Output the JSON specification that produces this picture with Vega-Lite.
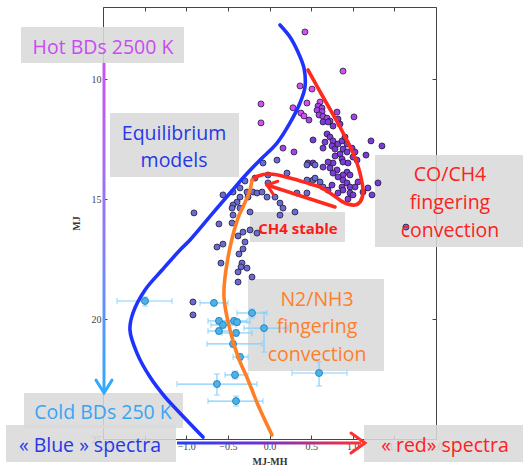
{
"$schema": "https://vega.github.io/schema/vega-lite/v6.json",
"width": 333, "height": 432,
"autosize": {"type": "none"},
"padding": {"left": 103, "top": 7, "right": 92, "bottom": 28},
"background": "white",
"config": {
 "view": {"stroke": "#444", "strokeWidth": 1},
 "axis": {"labelFont": "Liberation Serif", "labelFontSize": 10, "labelColor": "#444", "titleFont": "Liberation Serif", "titleFontSize": 10, "titleFontWeight": "bold", "titleColor": "#333", "tickColor": "#444", "domain": false, "grid": false, "tickSize": -4}
},
"datasets": {
 "boxes": [
  {"x1": -2.985, "x2": -1.027, "y1": 7.83, "y2": 9.33},
  {"x1": -1.916, "x2": -0.366, "y1": 11.42, "y2": 14.08},
  {"x1": 1.267, "x2": 3.045, "y1": 13.17, "y2": 17.0},
  {"x1": -0.234, "x2": 0.907, "y1": 15.54, "y2": 16.79},
  {"x1": -0.258, "x2": 1.375, "y1": 18.33, "y2": 22.17},
  {"x1": -2.949, "x2": -1.039, "y1": 23.08, "y2": 24.54},
  {"x1": -3.165, "x2": -1.123, "y1": 24.42, "y2": 25.96},
  {"x1": 1.135, "x2": 3.045, "y1": 24.42, "y2": 25.96}
 ],
 "dots": [
  {"x":0.426,"y":8.04,"c":"m"},{"x":0.883,"y":9.67,"c":"m"},{"x":0.366,"y":10.29,"c":"m"},{"x":0.511,"y":10.42,"c":"m"},{"x":0.45,"y":11.0,"c":"m"},{"x":0.607,"y":10.96,"c":"m"},{"x":0.282,"y":11.2,"c":"m"},{"x":-0.102,"y":11.04,"c":"m"},{"x":0.378,"y":11.42,"c":"m"},{"x":0.414,"y":11.54,"c":"m"},{"x":-0.102,"y":11.83,"c":"m"},
  {"x":0.583,"y":11.13,"c":"mp"},{"x":0.631,"y":11.21,"c":"mp"},{"x":0.474,"y":11.71,"c":"mp"},{"x":0.571,"y":11.3,"c":"mp"},{"x":0.631,"y":11.36,"c":"mp"},{"x":0.595,"y":11.5,"c":"mp"},{"x":0.643,"y":11.56,"c":"mp"},{"x":0.691,"y":11.63,"c":"mp"},{"x":0.727,"y":11.75,"c":"mp"},{"x":0.811,"y":11.38,"c":"mp"},{"x":1.015,"y":11.58,"c":"mp"},{"x":0.162,"y":12.88,"c":"mp"},{"x":0.294,"y":13.04,"c":"mp"},
  {"x":0.643,"y":11.79,"c":"p"},{"x":0.703,"y":11.79,"c":"p"},{"x":0.763,"y":11.96,"c":"p"},{"x":0.823,"y":11.67,"c":"p"},{"x":0.847,"y":11.88,"c":"p"},{"x":0.691,"y":12.29,"c":"p"},{"x":0.727,"y":12.42,"c":"p"},{"x":0.667,"y":12.63,"c":"p"},{"x":0.763,"y":12.58,"c":"p"},{"x":0.751,"y":12.79,"c":"p"},{"x":0.787,"y":12.92,"c":"p"},{"x":0.823,"y":12.71,"c":"p"},{"x":0.871,"y":12.58,"c":"p"},{"x":0.907,"y":12.42,"c":"p"},{"x":0.931,"y":12.71,"c":"p"},{"x":0.883,"y":12.92,"c":"p"},{"x":0.847,"y":13.13,"c":"p"},{"x":0.787,"y":13.21,"c":"p"},{"x":0.871,"y":13.33,"c":"p"},{"x":0.931,"y":13.04,"c":"p"},{"x":0.991,"y":12.88,"c":"p"},{"x":1.027,"y":13.04,"c":"p"},{"x":1.003,"y":13.25,"c":"p"},{"x":1.051,"y":13.38,"c":"p"},{"x":0.523,"y":12.54,"c":"p"},{"x":0.643,"y":12.88,"c":"p"},{"x":1.159,"y":13.17,"c":"p"},{"x":1.219,"y":12.58,"c":"p"},{"x":1.351,"y":12.79,"c":"p"},{"x":0.763,"y":13.5,"c":"p"},{"x":0.703,"y":13.46,"c":"p"},{"x":0.523,"y":13.5,"c":"p"},{"x":0.462,"y":13.5,"c":"p"},
  {"x":0.643,"y":13.67,"c":"p"},{"x":0.727,"y":13.71,"c":"p"},{"x":0.811,"y":13.79,"c":"p"},{"x":0.931,"y":13.88,"c":"p"},{"x":0.967,"y":14.0,"c":"p"},{"x":0.883,"y":14.0,"c":"p"},{"x":0.763,"y":13.92,"c":"p"},{"x":0.823,"y":14.08,"c":"p"},{"x":0.883,"y":14.21,"c":"p"},{"x":0.931,"y":14.33,"c":"p"},{"x":0.871,"y":14.5,"c":"p"},{"x":0.967,"y":14.5,"c":"p"},{"x":1.027,"y":14.5,"c":"p"},{"x":1.063,"y":14.29,"c":"p"},{"x":1.123,"y":14.71,"c":"p"},{"x":1.183,"y":14.54,"c":"p"},{"x":1.231,"y":14.83,"c":"p"},{"x":1.303,"y":14.33,"c":"p"},{"x":0.967,"y":14.75,"c":"p"},{"x":0.883,"y":14.63,"c":"p"},{"x":0.823,"y":14.75,"c":"p"},{"x":0.943,"y":15.0,"c":"p"},{"x":1.003,"y":14.83,"c":"p"},{"x":0.703,"y":14.63,"c":"p"},{"x":0.751,"y":14.42,"c":"p"},{"x":0.883,"y":13.46,"c":"p"},{"x":0.943,"y":13.5,"c":"p"},
  {"x":0.523,"y":14.21,"c":"s"},{"x":0.607,"y":14.29,"c":"s"},{"x":0.643,"y":14.5,"c":"s"},{"x":-0.078,"y":13.5,"c":"s"},{"x":0.09,"y":13.38,"c":"s"},{"x":0.45,"y":13.58,"c":"s"},{"x":0.547,"y":13.58,"c":"s"},{"x":0.21,"y":13.92,"c":"s"},{"x":-0.018,"y":14.0,"c":"s"},{"x":-0.174,"y":14.13,"c":"s"},{"x":-0.294,"y":14.25,"c":"s"},{"x":-0.018,"y":14.33,"c":"s"},{"x":-0.354,"y":14.54,"c":"s"},{"x":-0.27,"y":14.71,"c":"s"},{"x":-0.198,"y":14.71,"c":"s"},{"x":-0.15,"y":14.75,"c":"s"},{"x":-0.09,"y":14.71,"c":"s"},{"x":-0.438,"y":14.71,"c":"s"},{"x":-0.559,"y":14.83,"c":"s"},{"x":-0.354,"y":14.92,"c":"s"},{"x":-0.258,"y":14.92,"c":"s"},{"x":-0.03,"y":14.92,"c":"s"},{"x":0.066,"y":14.92,"c":"s"},{"x":0.126,"y":15.17,"c":"s"},{"x":-0.39,"y":15.13,"c":"s"},{"x":-0.438,"y":15.25,"c":"s"},{"x":-0.45,"y":15.38,"c":"s"},{"x":-0.354,"y":15.38,"c":"s"},{"x":0.162,"y":15.38,"c":"s"},{"x":-0.234,"y":15.54,"c":"s"},{"x":0.126,"y":15.67,"c":"s"},{"x":0.306,"y":15.54,"c":"s"},{"x":0.33,"y":14.75,"c":"s"},{"x":0.45,"y":14.75,"c":"s"},{"x":0.45,"y":14.21,"c":"s"},{"x":0.547,"y":14.13,"c":"s"},{"x":1.639,"y":16.17,"c":"s"},
  {"x":-0.907,"y":15.58,"c":"s"},{"x":-0.607,"y":16.04,"c":"s"},{"x":-0.45,"y":16.0,"c":"s"},{"x":-0.438,"y":15.67,"c":"s"},{"x":-0.318,"y":16.38,"c":"s"},{"x":-0.234,"y":16.29,"c":"s"},{"x":-0.15,"y":16.42,"c":"s"},{"x":-0.378,"y":16.54,"c":"s"},{"x":-0.294,"y":16.79,"c":"s"},{"x":-0.559,"y":16.88,"c":"s"},{"x":-0.631,"y":17.0,"c":"s"},{"x":-0.318,"y":17.08,"c":"s"},{"x":-0.366,"y":17.29,"c":"s"},{"x":-0.583,"y":17.67,"c":"s"},{"x":-0.33,"y":17.67,"c":"s"},{"x":-0.342,"y":17.83,"c":"s"},{"x":-0.27,"y":17.88,"c":"s"},{"x":-0.378,"y":18.04,"c":"s"},{"x":-0.21,"y":18.25,"c":"s"},{"x":-0.378,"y":18.46,"c":"s"},{"x":-0.919,"y":19.29,"c":"s"},{"x":-0.919,"y":19.83,"c":"s"}
 ],
 "errs": [
  {"x":-1.495,"y":19.25,"xlo":-1.832,"xhi":-1.171,"ylo":19.08,"yhi":19.46},
  {"x":-0.667,"y":19.33,"xlo":-0.835,"xhi":-0.498,"ylo":19.25,"yhi":19.42},
  {"x":-0.21,"y":19.75,"xlo":-0.39,"xhi":-0.03,"ylo":19.58,"yhi":19.96},
  {"x":-0.066,"y":20.38,"xlo":-0.306,"xhi":0.222,"ylo":19.71,"yhi":21.38},
  {"x":-0.607,"y":20.08,"xlo":-0.739,"xhi":-0.45,"ylo":19.96,"yhi":20.21},
  {"x":-0.559,"y":20.25,"xlo":-0.703,"xhi":-0.402,"ylo":20.13,"yhi":20.38},
  {"x":-0.426,"y":20.08,"xlo":-0.583,"xhi":-0.27,"ylo":19.96,"yhi":20.21},
  {"x":-0.39,"y":20.13,"xlo":-0.511,"xhi":-0.234,"ylo":20.0,"yhi":20.25},
  {"x":-0.607,"y":20.5,"xlo":-0.739,"xhi":-0.474,"ylo":20.38,"yhi":20.63},
  {"x":-0.402,"y":20.58,"xlo":-0.571,"xhi":-0.21,"ylo":20.46,"yhi":20.71},
  {"x":-0.438,"y":21.04,"xlo":-0.751,"xhi":-0.09,"ylo":20.92,"yhi":21.17},
  {"x":-0.354,"y":21.58,"xlo":-0.438,"xhi":-0.258,"ylo":21.46,"yhi":21.71},
  {"x":-0.414,"y":22.33,"xlo":-0.535,"xhi":-0.258,"ylo":22.17,"yhi":22.5},
  {"x":-0.631,"y":22.71,"xlo":-1.111,"xhi":-0.15,"ylo":22.29,"yhi":23.17},
  {"x":-0.402,"y":23.42,"xlo":-0.739,"xhi":-0.078,"ylo":23.21,"yhi":23.63},
  {"x":0.595,"y":22.25,"xlo":0.27,"xhi":0.931,"ylo":21.79,"yhi":22.79}
 ],
 "curves": [
  {"curve":"eq","o":1,"x":0.126,"y":7.75},{"curve":"eq","o":2,"x":0.246,"y":8.25},{"curve":"eq","o":3,"x":0.342,"y":8.875},{"curve":"eq","o":4,"x":0.414,"y":9.54},{"curve":"eq","o":5,"x":0.426,"y":10.33},{"curve":"eq","o":6,"x":0.366,"y":11.0},{"curve":"eq","o":7,"x":0.246,"y":11.83},{"curve":"eq","o":8,"x":0.09,"y":12.67},{"curve":"eq","o":9,"x":-0.114,"y":13.375},{"curve":"eq","o":10,"x":-0.3,"y":14.05},{"curve":"eq","o":11,"x":-0.474,"y":14.75},{"curve":"eq","o":12,"x":-0.679,"y":15.58},{"curve":"eq","o":13,"x":-0.955,"y":16.71},{"curve":"eq","o":14,"x":-1.075,"y":17.125},{"curve":"eq","o":15,"x":-1.29,"y":17.96},{"curve":"eq","o":16,"x":-1.495,"y":18.79},{"curve":"eq","o":17,"x":-1.64,"y":19.75},{"curve":"eq","o":18,"x":-1.676,"y":20.46},{"curve":"eq","o":19,"x":-1.592,"y":21.42},{"curve":"eq","o":20,"x":-1.435,"y":22.42},{"curve":"eq","o":21,"x":-1.255,"y":23.25},{"curve":"eq","o":22,"x":-1.111,"y":23.79},{"curve":"eq","o":23,"x":-0.799,"y":24.92},
  {"curve":"co","o":1,"x":0.462,"y":9.625},{"curve":"co","o":2,"x":0.643,"y":10.75},{"curve":"co","o":3,"x":0.847,"y":12.0},{"curve":"co","o":4,"x":1.003,"y":13.08},{"curve":"co","o":5,"x":1.087,"y":13.92},{"curve":"co","o":6,"x":1.123,"y":14.75},{"curve":"co","o":7,"x":1.087,"y":15.125},{"curve":"co","o":8,"x":1.027,"y":15.25},{"curve":"co","o":9,"x":0.883,"y":15.125},{"curve":"co","o":10,"x":0.763,"y":14.83},{"curve":"co","o":11,"x":0.607,"y":14.5},{"curve":"co","o":12,"x":0.486,"y":14.375},{"curve":"co","o":13,"x":0.246,"y":14.125},{"curve":"co","o":14,"x":0.006,"y":13.96},{"curve":"co","o":15,"x":-0.138,"y":14.04},{"curve":"co","o":16,"x":-0.21,"y":14.21},
  {"curve":"n2","o":1,"x":-0.21,"y":14.21},{"curve":"n2","o":2,"x":-0.234,"y":14.625},{"curve":"n2","o":3,"x":-0.318,"y":15.33},{"curve":"n2","o":4,"x":-0.378,"y":15.79},{"curve":"n2","o":5,"x":-0.51,"y":17.67},{"curve":"n2","o":6,"x":-0.547,"y":19.08},{"curve":"n2","o":7,"x":-0.474,"y":20.46},{"curve":"n2","o":8,"x":-0.378,"y":21.58},{"curve":"n2","o":9,"x":-0.258,"y":22.54},{"curve":"n2","o":10,"x":-0.138,"y":23.58},{"curve":"n2","o":11,"x":0.03,"y":24.83},
  {"curve":"ar","o":1,"x":0.787,"y":15.33},{"curve":"ar","o":2,"x":-0.03,"y":14.42}
 ],
 "labels": [
  {"x":-2.0,"y":8.71,"t":"Hot BDs 2500 K","k":"hot"},
  {"x":-1.147,"y":12.29,"t":"Equilibrium","k":"eq"},
  {"x":-1.147,"y":13.42,"t":"models","k":"eq"},
  {"x":2.168,"y":14.0,"t":"CO/CH4","k":"co"},
  {"x":2.168,"y":15.17,"t":"fingering","k":"co"},
  {"x":2.168,"y":16.33,"t":"convection","k":"co"},
  {"x":0.571,"y":19.21,"t":"N2/NH3","k":"n2"},
  {"x":0.571,"y":20.33,"t":"fingering","k":"n2"},
  {"x":0.571,"y":21.5,"t":"convection","k":"n2"},
  {"x":-2.0,"y":23.92,"t":"Cold BDs 250 K","k":"cold"},
  {"x":-2.156,"y":25.29,"t":"« Blue » spectra","k":"eq"},
  {"x":2.108,"y":25.29,"t":"« red» spectra","k":"co"}
 ]
},
"resolve": {"axis": {"x": "independent", "y": "independent"}},
"layer": [
 {
  "resolve": {"scale": {"color": "independent"}},
  "layer": [
   {
    "data": {"name": "boxes"},
    "mark": {"type": "rect", "fill": "#d9d9d9", "opacity": 0.88},
    "encoding": {
     "x": {"field": "x1", "type": "quantitative", "title": "MJ-MH", "scale": {"domain": [-2, 2], "nice": false, "zero": false},
           "axis": {"title": "MJ-MH", "values": [-2, -1.5, -1, -0.5, 0, 0.5, 1, 1.5, 2], "format": ".1f", "labelPadding": 6, "titlePadding": 5, "labelFlush": false}},
     "x2": {"field": "x2"},
     "y": {"field": "y1", "type": "quantitative", "title": "MJ", "scale": {"domain": [7, 25], "reverse": true, "nice": false, "zero": false},
           "axis": {"title": "MJ", "values": [10, 15, 20, 25], "labelPadding": 6, "titlePadding": 10, "labelFlush": false}},
     "y2": {"field": "y2"}
    }
   },
   {
    "data": {"name": "errs"},
    "mark": {"type": "errorbar", "ticks": {"size": 6}, "color": "#80cfff", "thickness": 1.2},
    "encoding": {"x": {"field": "xlo", "type": "quantitative", "title": "MJ-MH"}, "x2": {"field": "xhi"}, "y": {"field": "y", "type": "quantitative", "title": "MJ"}}
   },
   {
    "data": {"name": "errs"},
    "mark": {"type": "errorbar", "ticks": {"size": 6}, "color": "#80cfff", "thickness": 1.2},
    "encoding": {"y": {"field": "ylo", "type": "quantitative", "title": "MJ"}, "y2": {"field": "yhi"}, "x": {"field": "x", "type": "quantitative", "title": "MJ-MH"}}
   },
   {
    "data": {"name": "dots"},
    "mark": {"type": "point", "filled": true, "size": 36, "stroke": "#1d1d3a", "strokeWidth": 0.8, "opacity": 1},
    "encoding": {
     "x": {"field": "x", "type": "quantitative", "title": "MJ-MH"},
     "y": {"field": "y", "type": "quantitative", "title": "MJ"},
     "color": {"field": "c", "type": "nominal", "scale": {"domain": ["m", "mp", "p", "s"], "range": ["#d64ff0", "#a844e6", "#7c3ad6", "#6a6ad0"]}, "legend": null}
    }
   },
   {
    "data": {"name": "errs"},
    "mark": {"type": "point", "filled": true, "size": 48, "color": "#4cb2e8", "stroke": "#2a86c0", "strokeWidth": 1, "opacity": 1},
    "encoding": {"x": {"field": "x", "type": "quantitative", "title": "MJ-MH"}, "y": {"field": "y", "type": "quantitative", "title": "MJ"}}
   },
   {
    "data": {"name": "curves"},
    "mark": {"type": "line", "strokeWidth": 3.6, "strokeCap": "round", "interpolate": "catmull-rom"},
    "encoding": {
     "x": {"field": "x", "type": "quantitative", "title": "MJ-MH"},
     "y": {"field": "y", "type": "quantitative", "title": "MJ"},
     "order": {"field": "o", "type": "quantitative"},
     "color": {"field": "curve", "type": "nominal", "scale": {"domain": ["eq", "co", "n2", "ar"], "range": ["#1f33ff", "#ff2a1f", "#ff7f27", "#ff2a1f"]}, "legend": null}
    }
   },
   {
    "data": {"values": [{"xa": -2.006, "xb": -1.970, "ya": 9.33, "yb": 23.0}]},
    "mark": {"type": "rect", "fill": {"gradient": "linear", "x1": 0, "y1": 0, "x2": 0, "y2": 1, "stops": [{"offset": 0, "color": "#cc55ee"}, {"offset": 0.5, "color": "#8f7cf5"}, {"offset": 1, "color": "#33aaff"}]}},
    "encoding": {"x": {"field": "xa", "type": "quantitative", "title": "MJ-MH"}, "x2": {"field": "xb"}, "y": {"field": "ya", "type": "quantitative", "title": "MJ"}, "y2": {"field": "yb"}}
   },
   {
    "data": {"values": [{"xa": -1.111, "xb": 1.10, "ya": 25.10, "yb": 25.23}]},
    "mark": {"type": "rect", "fill": {"gradient": "linear", "x1": 0, "y1": 0, "x2": 1, "y2": 0, "stops": [{"offset": 0, "color": "#2040ff"}, {"offset": 0.5, "color": "#7a30c8"}, {"offset": 1, "color": "#ff3030"}]}},
    "encoding": {"x": {"field": "xa", "type": "quantitative", "title": "MJ-MH"}, "x2": {"field": "xb"}, "y": {"field": "ya", "type": "quantitative", "title": "MJ"}, "y2": {"field": "yb"}}
   },
   {
    "data": {"values": [{"x": -1.988, "y": 23.08}]},
    "mark": {"type": "point", "shape": "M-1,-1.6L0,0L1,-1.6", "size": 256, "filled": false, "stroke": "#33aaff", "strokeWidth": 3, "strokeCap": "round", "opacity": 1},
    "encoding": {"x": {"field": "x", "type": "quantitative", "title": "MJ-MH"}, "y": {"field": "y", "type": "quantitative", "title": "MJ"}}
   },
   {
    "data": {"values": [{"x": 1.147, "y": 25.17}]},
    "mark": {"type": "point", "shape": "M-1.4,-1L0,0L-1.4,1", "size": 400, "filled": false, "stroke": "#ff3030", "strokeWidth": 3, "strokeCap": "round", "opacity": 1},
    "encoding": {"x": {"field": "x", "type": "quantitative", "title": "MJ-MH"}, "y": {"field": "y", "type": "quantitative", "title": "MJ"}}
   },
   {
    "data": {"values": [{"x": -0.03, "y": 14.42}]},
    "mark": {"type": "point", "shape": "M-1.3,-1L0,0L-1.3,1", "size": 196, "angle": 198, "filled": false, "stroke": "#ff2a1f", "strokeWidth": 3, "strokeCap": "round", "opacity": 1},
    "encoding": {"x": {"field": "x", "type": "quantitative", "title": "MJ-MH"}, "y": {"field": "y", "type": "quantitative", "title": "MJ"}}
   },
   {
    "data": {"name": "labels"},
    "mark": {"type": "text", "font": "Open Sans", "fontSize": 19.5, "align": "center", "baseline": "middle"},
    "encoding": {
     "x": {"field": "x", "type": "quantitative", "title": "MJ-MH"},
     "y": {"field": "y", "type": "quantitative", "title": "MJ"},
     "text": {"field": "t"},
     "color": {"field": "k", "type": "nominal", "scale": {"domain": ["hot", "eq", "co", "n2", "cold"], "range": ["#c84cf0", "#2638e8", "#ff2020", "#ff7f2a", "#35a6f5"]}, "legend": null}
    }
   },
   {
    "data": {"values": [{"x": 0.342, "y": 16.25, "t": "CH4 stable"}]},
    "mark": {"type": "text", "font": "Open Sans", "fontSize": 15, "fontWeight": "bold", "color": "#ff1a1a", "align": "center", "baseline": "middle"},
    "encoding": {"x": {"field": "x", "type": "quantitative", "title": "MJ-MH"}, "y": {"field": "y", "type": "quantitative", "title": "MJ"}, "text": {"field": "t"}}
   }
  ]
 },
 {
  "data": {"values": [{"x": 0, "y": 10}]},
  "mark": {"type": "point", "opacity": 0},
  "encoding": {
   "x": {"field": "x", "type": "quantitative", "scale": {"domain": [-2, 2], "nice": false, "zero": false}, "axis": {"orient": "top", "labels": false, "title": null, "values": [-2, -1.5, -1, -0.5, 0, 0.5, 1, 1.5, 2]}},
   "y": {"field": "y", "type": "quantitative", "scale": {"domain": [7, 25], "reverse": true, "nice": false, "zero": false}, "axis": {"orient": "right", "labels": false, "title": null, "values": [10, 15, 20, 25]}}
  }
 }
]
}
